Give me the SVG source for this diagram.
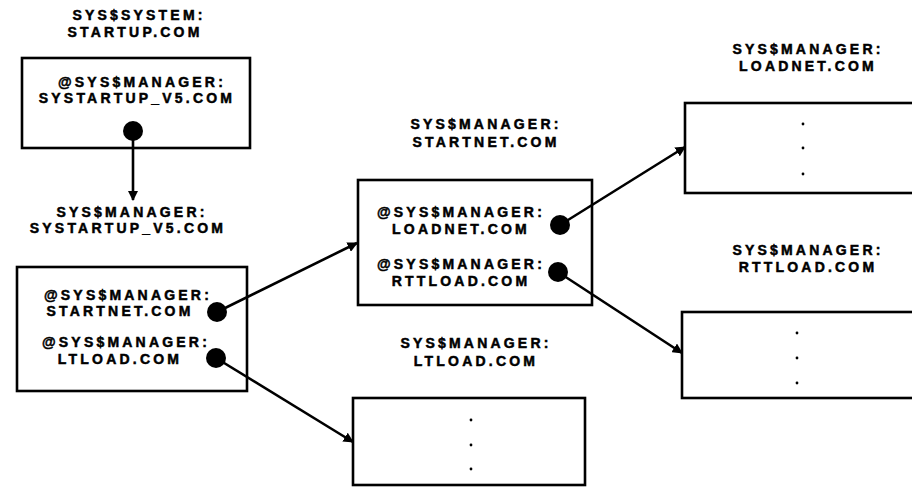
<svg xmlns="http://www.w3.org/2000/svg" width="912" height="491" viewBox="0 0 912 491">
<defs>
<style>
.t{font-family:"Liberation Sans",Arial,sans-serif;font-weight:700;font-size:14px;letter-spacing:3.2px;text-anchor:middle;fill:#000;stroke:#000;stroke-width:0.5}
.box{fill:#fff;stroke:#000;stroke-width:2.6}
.ln{stroke:#000;stroke-width:2.6;fill:none}
.dot{fill:#000}
.sd{fill:#000}
</style>
<marker id="ah" viewBox="0 0 10 10" refX="9" refY="5" markerWidth="4" markerHeight="4" orient="auto" markerUnits="strokeWidth">
<path d="M0,0 L10,5 L0,10 z" fill="#000"/>
</marker>
</defs>
<rect width="912" height="491" fill="#fff"/>

<g id="startup">
<text class="t" x="139" y="20">SYS$SYSTEM:</text>
<text class="t" x="135" y="37">STARTUP.COM</text>
<rect class="box" x="22" y="58" width="228" height="90"/>
<text class="t" x="142" y="87">@SYS$MANAGER:</text>
<text class="t" x="137" y="103">SYSTARTUP_V5.COM</text>
<circle class="dot" cx="133" cy="131" r="10"/>
</g>

<g id="systartup">
<text class="t" x="132" y="217">SYS$MANAGER:</text>
<text class="t" x="128" y="233">SYSTARTUP_V5.COM</text>
<rect class="box" x="17" y="267" width="230" height="124"/>
<text class="t" x="128" y="300">@SYS$MANAGER:</text>
<text class="t" x="120" y="316">STARTNET.COM</text>
<text class="t" x="126" y="347">@SYS$MANAGER:</text>
<text class="t" x="120" y="364">LTLOAD.COM</text>
<circle class="dot" cx="217" cy="312" r="10"/>
<circle class="dot" cx="216" cy="358" r="10"/>
</g>

<g id="startnet">
<text class="t" x="486" y="129">SYS$MANAGER:</text>
<text class="t" x="486" y="147">STARTNET.COM</text>
<rect class="box" x="358" y="180" width="234" height="125"/>
<text class="t" x="461" y="217">@SYS$MANAGER:</text>
<text class="t" x="461" y="234">LOADNET.COM</text>
<text class="t" x="461" y="269">@SYS$MANAGER:</text>
<text class="t" x="461" y="286">RTTLOAD.COM</text>
<circle class="dot" cx="560" cy="225" r="10"/>
<circle class="dot" cx="558" cy="272" r="10"/>
</g>

<g id="loadnet">
<text class="t" x="808" y="54">SYS$MANAGER:</text>
<text class="t" x="808" y="71">LOADNET.COM</text>
<rect class="box" x="685" y="103" width="235" height="90"/>
<circle class="sd" cx="803" cy="124" r="1.4"/>
<circle class="sd" cx="803" cy="148" r="1.4"/>
<circle class="sd" cx="803" cy="174" r="1.4"/>
</g>

<g id="rttload">
<text class="t" x="808" y="255">SYS$MANAGER:</text>
<text class="t" x="808" y="272">RTTLOAD.COM</text>
<rect class="box" x="682" y="312" width="238" height="86"/>
<circle class="sd" cx="797" cy="333" r="1.4"/>
<circle class="sd" cx="797" cy="358" r="1.4"/>
<circle class="sd" cx="797" cy="383" r="1.4"/>
</g>

<g id="ltload">
<text class="t" x="476" y="348">SYS$MANAGER:</text>
<text class="t" x="476" y="366">LTLOAD.COM</text>
<rect class="box" x="353" y="398" width="232" height="87"/>
<circle class="sd" cx="471" cy="420" r="1.4"/>
<circle class="sd" cx="471" cy="445" r="1.4"/>
<circle class="sd" cx="471" cy="469" r="1.4"/>
</g>

<g id="connectors">
<line class="ln" x1="133" y1="131" x2="133" y2="200" marker-end="url(#ah)"/>
<line class="ln" x1="217" y1="312" x2="357" y2="243" marker-end="url(#ah)"/>
<line class="ln" x1="216" y1="358" x2="353" y2="442" marker-end="url(#ah)"/>
<line class="ln" x1="560" y1="225" x2="685" y2="147" marker-end="url(#ah)"/>
<line class="ln" x1="558" y1="272" x2="682" y2="353" marker-end="url(#ah)"/>
</g>
</svg>
